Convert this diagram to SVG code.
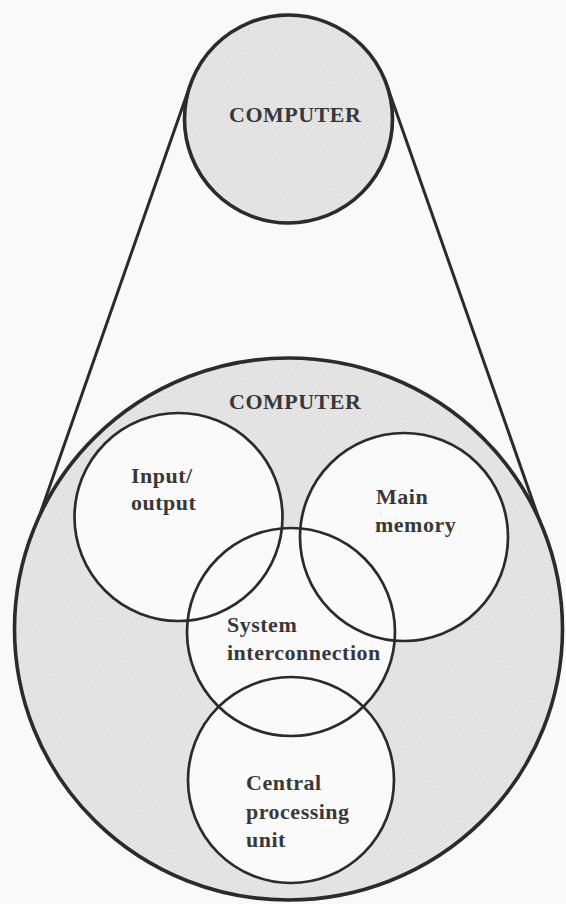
<svg xmlns="http://www.w3.org/2000/svg" width="566" height="904" viewBox="0 0 566 904">
  <defs>
    <pattern id="hatch" width="3" height="3" patternUnits="userSpaceOnUse" patternTransform="rotate(-35)">
      <rect width="3" height="3" fill="#e8e8e8"/>
      <line x1="0" y1="0.5" x2="3" y2="0.5" stroke="#d6d6d6" stroke-width="0.8"/>
    </pattern>
    <style>
      .outer { fill: url(#hatch); stroke: #2b2b2b; stroke-width: 3.6; }
      .inner { fill: none; stroke: #2b2b2b; stroke-width: 2.7; }
      .under { fill: #fafafa; stroke: none; }
      .conn { stroke: #2b2b2b; stroke-width: 3; stroke-linecap: round; fill: none; }
      .lbl { font-family: "Liberation Serif", "Times New Roman", serif; font-weight: bold; font-size: 22px; letter-spacing: 0.5px; fill: #383838; }
    </style>
  </defs>
  <rect width="566" height="904" fill="#f9f9f9"/>

  <g id="connectors">
    <line class="conn" x1="190.3" y1="84.7" x2="31.3" y2="539"/>
    <line class="conn" x1="386.7" y1="84.7" x2="546" y2="539"/>
  </g>

  <g id="computer-top">
    <circle class="outer" cx="288.5" cy="119" r="104"/>
    <text class="lbl" x="229" y="122">COMPUTER</text>
  </g>

  <g id="computer-detail">
    <ellipse class="outer" cx="288.5" cy="629" rx="274" ry="271"/>
    <text class="lbl" x="229" y="409">COMPUTER</text>
  </g>

  <g id="inner-underlay">
    <circle class="under" cx="178.5" cy="517" r="104"/>
    <circle class="under" cx="404" cy="537" r="104"/>
    <circle class="under" cx="291" cy="632" r="104"/>
    <circle class="under" cx="291" cy="780" r="103"/>
  </g>

  <g id="io">
    <circle class="inner" cx="178.5" cy="517" r="104"/>
    <text class="lbl" x="131" y="483">Input/</text>
    <text class="lbl" x="131" y="510">output</text>
  </g>

  <g id="main-memory">
    <circle class="inner" cx="404" cy="537" r="104"/>
    <text class="lbl" x="376" y="504">Main</text>
    <text class="lbl" x="375" y="532">memory</text>
  </g>

  <g id="system-interconnection">
    <circle class="inner" cx="291" cy="632" r="104"/>
    <text class="lbl" x="227" y="632">System</text>
    <text class="lbl" x="227" y="660">interconnection</text>
  </g>

  <g id="cpu">
    <circle class="inner" cx="291" cy="780" r="103"/>
    <text class="lbl" x="246" y="790">Central</text>
    <text class="lbl" x="246" y="819">processing</text>
    <text class="lbl" x="246" y="847">unit</text>
  </g>
</svg>
